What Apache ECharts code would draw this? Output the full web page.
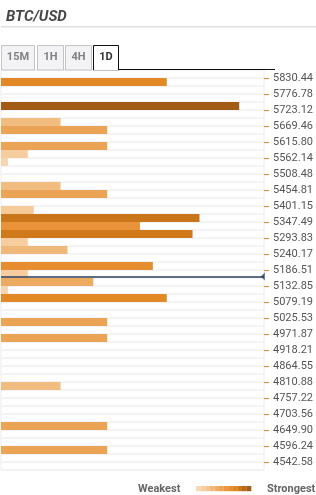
<!DOCTYPE html>
<html>
<head>
<meta charset="utf-8">
<script src="https://cdn.jsdelivr.net/npm/echarts@6/dist/echarts.min.js"></script>
<style>
html,body{margin:0;padding:0;background:#fff;}
#chart{width:316px;height:495px;}
</style>
</head>
<body>
<div id="chart"></div>
<script>
// ---- data ----
var title = 'BTC/USD';
var tabs = ['15M', '1H', '4H', '1D'];
var activeTab = '1D';
// 50 price rows, top to bottom; strength of confluence per row (0 = none)
var rowStrength = [
  0, 167, 0, 0, 240, 0, 60, 107, 0, 107,
  27, 7, 0, 0, 60, 107, 0, 33, 200, 140,
  193, 27, 67, 0, 153, 27, 93, 7, 167, 0,
  0, 107, 0, 107, 0, 0, 0, 0, 0, 60,
  0, 0, 0, 0, 107, 0, 0, 107, 0, 0
];
var tickLabels = [5830.44, 5776.78, 5723.12, 5669.46, 5615.80, 5562.14, 5508.48, 5454.81,
  5401.15, 5347.49, 5293.83, 5240.17, 5186.51, 5132.85, 5079.19, 5025.53, 4971.87,
  4918.21, 4864.55, 4810.88, 4757.22, 4703.56, 4649.90, 4596.24, 4542.58];
var priceTop = 5857.27;
var priceBottom = 4515.75;
var currentPrice = 5165;
var palette = ['#F7D9B7', '#F5CFA3', '#F3C58F', '#F0B97B', '#EEAE67', '#EBA354',
  '#E99842', '#E68D30', '#E0861F', '#CC7719', '#B86A18', '#A35C16'];
var legendText = ['Weakest', 'Strongest'];

var rows = rowStrength.map(function (v, i) { return 'r' + i; });

// ---- graphics (title, tabs, legend) ----
var graphics = [];
graphics.push({ type: 'rect', shape: { x: 1, y: 26, width: 315, height: 1.6 }, style: { fill: '#DEDEDE' }, silent: true });
var tabGeom = [[1.5, 33], [37.5, 26], [65.5, 26], [93.5, 25]];
tabs.forEach(function (t, i) {
  var g = tabGeom[i];
  var active = t === activeTab;
  graphics.push({
    type: 'rect', shape: { x: g[0], y: 45.5, width: g[1], height: 24.5 },
    style: { fill: active ? '#FFFFFF' : '#F3F3F6', stroke: active ? '#111' : '#C4C4C8', lineWidth: 1 },
    silent: true, z: 10
  });
  graphics.push({
    type: 'text', x: g[0] + g[1] / 2, y: 57.5,
    style: { text: t, fill: active ? '#333' : '#808080', font: 'bold 11px Roboto', align: 'center', verticalAlign: 'middle' },
    silent: true, z: 11
  });
});
// cover bottom edge of active tab, draw black baseline
graphics.push({ type: 'rect', shape: { x: 94, y: 69, width: 24, height: 1.5 }, style: { fill: '#fff' }, silent: true, z: 12 });
graphics.push({ type: 'line', shape: { x1: 118, y1: 69.5, x2: 275, y2: 69.5 }, style: { stroke: '#111', lineWidth: 1 }, silent: true, z: 12 });
// legend
graphics.push({ type: 'text', x: 138, y: 489, style: { text: legendText[0], fill: '#666', font: 'bold 11px Roboto', verticalAlign: 'middle' }, silent: true });
palette.forEach(function (c, i) {
  graphics.push({ type: 'rect', shape: { x: 196 + i * 4.6, y: 486, width: 4.7, height: 5.2 }, style: { fill: c }, silent: true });
});
graphics.push({ type: 'text', x: 267, y: 489, style: { text: legendText[1], fill: '#666', font: 'bold 11px Roboto', verticalAlign: 'middle' }, silent: true });

var chart = echarts.init(document.getElementById('chart'), null, { renderer: 'canvas' });
chart.setOption({
  animation: false,
  backgroundColor: '#fff',
  title: {
    text: title, left: 1, top: 5,
    textStyle: { fontFamily: 'Roboto', fontSize: 15, fontWeight: 'bold', fontStyle: 'italic', color: '#474747' }
  },
  grid: { left: 1, right: 50, top: 70, bottom: 25, show: true, borderColor: '#ECECF1', borderWidth: 1 },
  xAxis: { type: 'value', min: 0, max: 265, show: false },
  yAxis: [
    {
      type: 'category', data: rows, inverse: true, boundaryGap: true,
      axisLine: { show: false }, axisTick: { show: false }, axisLabel: { show: false },
      splitLine: { show: true, interval: 0, lineStyle: { color: '#F0F0F5', width: 1.6 } }
    },
    {
      type: 'value', position: 'right', min: priceBottom, max: priceTop,
      axisLine: { show: false },
      splitLine: { show: false },
      axisTick: { show: true, length: 5, customValues: tickLabels, lineStyle: { color: '#E0892A', width: 1 } },
      axisLabel: {
        show: true, customValues: tickLabels, margin: 9, padding: [0, 0, 8, 0],
        color: '#555', fontFamily: 'Roboto', fontSize: 11,
        formatter: function (v) { return Number(v).toFixed(2); }
      }
    }
  ],
  visualMap: {
    type: 'continuous', show: false, seriesIndex: 0, dimension: 0, min: 0, max: 240,
    inRange: { color: palette }
  },
  series: [
    {
      type: 'bar', xAxisIndex: 0, yAxisIndex: 0, data: rowStrength,
      barCategoryGap: 0, z: 3, silent: true
    },
    {
      type: 'scatter', xAxisIndex: 0, yAxisIndex: 1, z: 2, silent: true,
      data: [[263.8, currentPrice]],
      symbol: 'triangle', symbolRotate: 90, symbolSize: [8, 4],
      itemStyle: { color: '#2B3E5C' },
      markLine: {
        silent: true, symbol: 'none', label: { show: false },
        lineStyle: { color: '#2B3E5C', width: 1.5, type: 'solid' },
        data: [{ yAxis: currentPrice }]
      }
    }
  ],
  graphic: graphics
});
</script>
</body>
</html>
